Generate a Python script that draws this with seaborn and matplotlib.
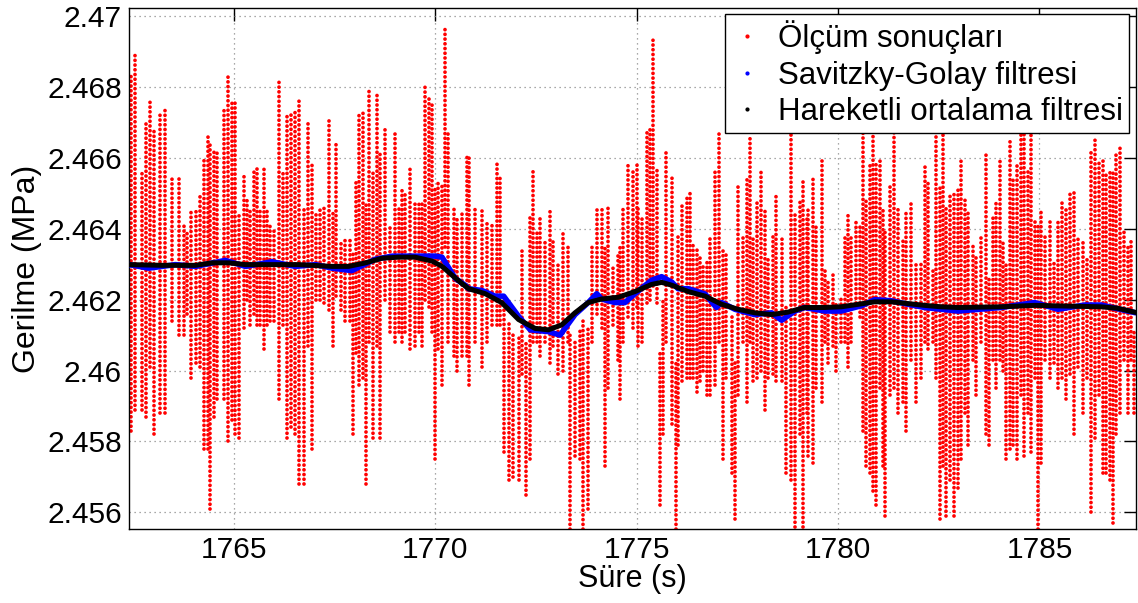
import numpy as np
import pandas as pd
import matplotlib
matplotlib.use("Agg")
import matplotlib.pyplot as plt
import seaborn as sns
from matplotlib.lines import Line2D
from matplotlib.ticker import FuncFormatter, MultipleLocator

streak_time = [
    1762.44, 1762.55, 1762.71, 1762.81, 1762.93, 1763.02, 1763.16, 1763.29, 1763.46, 1763.65,
    1763.76, 1763.84, 1763.93, 1764.05, 1764.15, 1764.26, 1764.36, 1764.42, 1764.50, 1764.59,
    1764.75, 1764.86, 1764.96, 1765.04, 1765.12, 1765.25, 1765.33, 1765.41, 1765.50, 1765.58,
    1765.66, 1765.74, 1765.83, 1765.91, 1765.99, 1766.12, 1766.22, 1766.32, 1766.41, 1766.53,
    1766.61, 1766.74, 1766.84, 1766.93, 1767.03, 1767.15, 1767.23, 1767.36, 1767.46, 1767.54,
    1767.65, 1767.77, 1767.89, 1767.95, 1768.03, 1768.12, 1768.20, 1768.27, 1768.35, 1768.45,
    1768.55, 1768.64, 1768.76, 1768.88, 1769.01, 1769.09, 1769.17, 1769.26, 1769.38, 1769.50,
    1769.60, 1769.67, 1769.74, 1769.84, 1769.92, 1770.00, 1770.08, 1770.17, 1770.25, 1770.33,
    1770.46, 1770.54, 1770.66, 1770.79,
    1770.83, 1770.99, 1771.16, 1771.28, 1771.41, 1771.53, 1771.61, 1771.70, 1771.82, 1771.94,
    1772.07, 1772.15, 1772.25, 1772.36, 1772.44, 1772.52, 1772.60, 1772.73, 1772.85, 1772.93,
    1773.06, 1773.18, 1773.29, 1773.35, 1773.47, 1773.60, 1773.68, 1773.80, 1773.89, 1774.01,
    1774.13, 1774.22, 1774.30, 1774.42, 1774.55, 1774.59, 1774.67, 1774.79, 1774.92, 1775.00,
    1775.04, 1775.14, 1775.25, 1775.33, 1775.41, 1775.50, 1775.58, 1775.66, 1775.74, 1775.87,
    1775.97, 1776.03, 1776.12, 1776.24, 1776.32, 1776.41, 1776.49, 1776.57, 1776.65, 1776.74,
    1776.82, 1776.94, 1777.05, 1777.15, 1777.23, 1777.36, 1777.44, 1777.52, 1777.65, 1777.73,
    1777.81, 1777.89, 1778.00, 1778.10, 1778.18, 1778.27, 1778.39, 1778.47, 1778.60, 1778.72,
    1778.84, 1778.93, 1779.05, 1779.13, 1779.22,
    1779.26, 1779.38, 1779.46, 1779.59, 1779.67, 1779.75, 1779.88, 1779.96, 1780.08, 1780.17,
    1780.25, 1780.33, 1780.44, 1780.54, 1780.62, 1780.70, 1780.79, 1780.87, 1780.95, 1781.03,
    1781.12, 1781.17, 1781.28, 1781.39, 1781.49, 1781.61, 1781.69, 1781.82, 1781.94, 1782.07,
    1782.15, 1782.23, 1782.36, 1782.44, 1782.52, 1782.60, 1782.69, 1782.77, 1782.89, 1782.98,
    1783.06, 1783.14, 1783.22,
    1783.35, 1783.43, 1783.56, 1783.68, 1783.76, 1783.84, 1783.93, 1784.01, 1784.09, 1784.18,
    1784.26, 1784.34, 1784.45, 1784.55, 1784.61, 1784.71, 1784.80, 1784.88, 1784.96, 1785.04,
    1785.14, 1785.25, 1785.36, 1785.46, 1785.56, 1785.66, 1785.75, 1785.85, 1785.95, 1786.08,
    1786.18, 1786.28, 1786.37, 1786.49, 1786.57, 1786.66, 1786.74, 1786.82, 1786.90, 1787.01,
    1787.11, 1787.19, 1787.27, 1787.34,
]
streak_top = [
    2.4683, 2.4689, 2.4656, 2.4670, 2.4676, 2.4668, 2.4672, 2.4674, 2.4655, 2.4654,
    2.4642, 2.4640, 2.4646, 2.4645, 2.4650, 2.4660, 2.4667, 2.4664, 2.4662, 2.4662,
    2.4674, 2.4683, 2.4676, 2.4676, 2.4644, 2.4655, 2.4648, 2.4645, 2.4656, 2.4657,
    2.4645, 2.4657, 2.4646, 2.4642, 2.4640, 2.4682, 2.4656, 2.4672, 2.4672, 2.4674,
    2.4677, 2.4646, 2.4670, 2.4659, 2.4645, 2.4646, 2.4647, 2.4671, 2.4645, 2.4664,
    2.4636, 2.4638, 2.4638, 2.4633, 2.4654, 2.4673, 2.4673, 2.4647, 2.4680, 2.4656,
    2.4678, 2.4661, 2.4669, 2.4641, 2.4668, 2.4646, 2.4651, 2.4650, 2.4658, 2.4647,
    2.4647, 2.4648, 2.4680, 2.4677, 2.4676, 2.4652, 2.4654, 2.4653, 2.4697, 2.4667,
    2.4646, 2.4643, 2.4645, 2.4661,
    2.4661, 2.4646, 2.4646, 2.4642, 2.4641, 2.4659, 2.4655, 2.4620, 2.4614, 2.4610,
    2.4610, 2.4634, 2.4608, 2.4644, 2.4657, 2.4639, 2.4643, 2.4637, 2.4645, 2.4637,
    2.4631, 2.4639, 2.4635, 2.4610, 2.4608, 2.4612, 2.4614, 2.4613, 2.4635, 2.4646,
    2.4646, 2.4635, 2.4646, 2.4629, 2.4633, 2.4635, 2.4646, 2.4658, 2.4657, 2.4658,
    2.4646, 2.4644, 2.4668, 2.4669, 2.4694, 2.4657, 2.4605, 2.4620, 2.4662, 2.4655,
    2.4603, 2.4638, 2.4647, 2.4649, 2.4651, 2.4636, 2.4635, 2.4633, 2.4630, 2.4631,
    2.4638, 2.4656, 2.4668, 2.4635, 2.4633, 2.4615, 2.4603, 2.4652, 2.4638, 2.4655,
    2.4666, 2.4637, 2.4648, 2.4657, 2.4646, 2.4632, 2.4638, 2.4650, 2.4637, 2.4619,
    2.4670, 2.4645, 2.4648, 2.4654, 2.4643,
    2.4646, 2.4655, 2.4641, 2.4659, 2.4629, 2.4626, 2.4627, 2.4619, 2.4621, 2.4638,
    2.4644, 2.4638, 2.4642, 2.4641, 2.4672, 2.4648, 2.4658, 2.4672, 2.4659, 2.4660,
    2.4646, 2.4640, 2.4653, 2.4672, 2.4646, 2.4637, 2.4645, 2.4647, 2.4631, 2.4630,
    2.4658, 2.4653, 2.4628, 2.4672, 2.4652, 2.4672, 2.4646, 2.4650, 2.4650, 2.4652,
    2.4660, 2.4648, 2.4645,
    2.4636, 2.4632, 2.4638, 2.4661, 2.4627, 2.4643, 2.4648, 2.4659, 2.4637, 2.4631,
    2.4665, 2.4654, 2.4658, 2.4672, 2.4672, 2.4656, 2.4672, 2.4643, 2.4642, 2.4646,
    2.4638, 2.4642, 2.4631, 2.4643, 2.4648, 2.4646, 2.4651, 2.4651, 2.4637, 2.4637,
    2.4632, 2.4662, 2.4666, 2.4659, 2.4659, 2.4656, 2.4657, 2.4656, 2.4661, 2.4664,
    2.4640, 2.4635, 2.4637, 2.4612,
]
streak_bottom = [
    2.4583, 2.4589, 2.4589, 2.4587, 2.4601, 2.4582, 2.4588, 2.4588, 2.4614, 2.4610,
    2.4610, 2.4616, 2.4598, 2.4602, 2.4601, 2.4578, 2.4578, 2.4561, 2.4587, 2.4592,
    2.4592, 2.4580, 2.4586, 2.4582, 2.4581, 2.4612, 2.4620, 2.4613, 2.4616, 2.4613,
    2.4613, 2.4606, 2.4613, 2.4614, 2.4614, 2.4592, 2.4613, 2.4581, 2.4584, 2.4582,
    2.4568, 2.4568, 2.4607, 2.4578, 2.4620, 2.4620, 2.4619, 2.4617, 2.4607, 2.4621,
    2.4617, 2.4614, 2.4614, 2.4582, 2.4605, 2.4596, 2.4598, 2.4568, 2.4608, 2.4581,
    2.4607, 2.4581, 2.4620, 2.4611, 2.4608, 2.4611, 2.4608, 2.4611, 2.4606, 2.4607,
    2.4611, 2.4607, 2.4620, 2.4618, 2.4611, 2.4575, 2.4606, 2.4596, 2.4635, 2.4608,
    2.4604, 2.4600, 2.4604, 2.4604,
    2.4596, 2.4608, 2.4601, 2.4608, 2.4613, 2.4613, 2.4613, 2.4577, 2.4569, 2.4570,
    2.4569, 2.4599, 2.4565, 2.4575, 2.4608, 2.4608, 2.4604, 2.4608, 2.4602, 2.4607,
    2.4599, 2.4600, 2.4608, 2.4550, 2.4576, 2.4575, 2.4550, 2.4561, 2.4608, 2.4616,
    2.4612, 2.4573, 2.4595, 2.4613, 2.4603, 2.4592, 2.4608, 2.4615, 2.4612, 2.4618,
    2.4607, 2.4608, 2.4619, 2.4620, 2.4624, 2.4619, 2.4562, 2.4582, 2.4608, 2.4585,
    2.4550, 2.4579, 2.4597, 2.4598, 2.4598, 2.4598, 2.4594, 2.4597, 2.4600, 2.4593,
    2.4593, 2.4596, 2.4608, 2.4575, 2.4598, 2.4571, 2.4558, 2.4593, 2.4608, 2.4591,
    2.4608, 2.4597, 2.4598, 2.4600, 2.4589, 2.4598, 2.4599, 2.4597, 2.4597, 2.4571,
    2.4569, 2.4556, 2.4582, 2.4556, 2.4588,
    2.4576, 2.4574, 2.4595, 2.4591, 2.4608, 2.4602, 2.4607, 2.4600, 2.4608, 2.4608,
    2.4601, 2.4608, 2.4619, 2.4615, 2.4583, 2.4573, 2.4571, 2.4566, 2.4562, 2.4595,
    2.4573, 2.4559, 2.4593, 2.4595, 2.4588, 2.4591, 2.4583, 2.4603, 2.4591, 2.4598,
    2.4608, 2.4606, 2.4608, 2.4598, 2.4558, 2.4573, 2.4559, 2.4569, 2.4559, 2.4567,
    2.4575, 2.4588, 2.4579,
    2.4603, 2.4593, 2.4608, 2.4582, 2.4579, 2.4603, 2.4595, 2.4603, 2.4600, 2.4575,
    2.4578, 2.4579, 2.4575, 2.4593, 2.4576, 2.4588, 2.4577, 2.4598, 2.4550, 2.4574,
    2.4603, 2.4598, 2.4602, 2.4595, 2.4598, 2.4592, 2.4599, 2.4582, 2.4601, 2.4588,
    2.4598, 2.4560, 2.4581, 2.4593, 2.4571, 2.4571, 2.4569, 2.4557, 2.4582, 2.4588,
    2.4603, 2.4588, 2.4603, 2.4588,
]

# ---- Savitzky-Golay filter output ----
sg_time = [1762.40, 1762.89, 1763.55, 1764.05, 1764.79, 1765.29, 1765.95, 1766.53, 1767.03, 1767.44,
           1767.93, 1768.51, 1768.93, 1769.50, 1770.00, 1770.17, 1770.50, 1770.74, 1770.83, 1771.16,
           1771.49, 1771.70, 1772.07, 1772.36, 1772.81, 1773.10, 1773.47, 1773.80, 1774.01, 1774.13,
           1774.46, 1774.71, 1774.96, 1775.37, 1775.62, 1775.87, 1776.03, 1776.28, 1776.70, 1776.98,
           1777.11, 1777.44, 1777.93, 1778.35, 1778.60, 1778.93, 1779.17, 1779.67, 1780.08, 1780.58,
           1780.91, 1781.32, 1781.74, 1782.15, 1782.56, 1782.98, 1784.05, 1784.88, 1785.46, 1786.12,
           1786.53, 1787.39]
sg_value = [2.46299, 2.46289, 2.46299, 2.46294, 2.46311, 2.46294, 2.46307, 2.46294, 2.46299, 2.46289,
            2.46282, 2.46314, 2.46323, 2.46323, 2.46323, 2.46320, 2.46260, 2.46241, 2.46231, 2.46226,
            2.46210, 2.46210, 2.46153, 2.46115, 2.46110, 2.46100, 2.46158, 2.46192, 2.46217, 2.46202,
            2.46192, 2.46192, 2.46217, 2.46255, 2.46265, 2.46250, 2.46231, 2.46231, 2.46216, 2.46178,
            2.46192, 2.46173, 2.46158, 2.46163, 2.46142, 2.46168, 2.46178, 2.46168, 2.46168, 2.46183,
            2.46200, 2.46197, 2.46187, 2.46178, 2.46173, 2.46168, 2.46178, 2.46192, 2.46173, 2.46185,
            2.46185, 2.46163]

# ---- moving average filter output ----
ma_time = [1762.40, 1763.22, 1764.05, 1764.46, 1764.88, 1765.29, 1766.12, 1766.61, 1767.44, 1767.85,
           1768.27, 1768.68, 1769.09, 1769.50, 1769.92, 1770.17, 1770.41, 1770.66, 1770.83, 1771.24,
           1771.65, 1772.07, 1772.48, 1772.81, 1773.14, 1773.47, 1773.80, 1774.13, 1774.55, 1774.96,
           1775.37, 1775.62, 1775.87, 1776.28, 1776.70, 1777.11, 1777.52, 1777.93, 1778.35, 1778.76,
           1779.17, 1779.67, 1780.08, 1780.50, 1780.91, 1781.32, 1781.74, 1782.15, 1782.56, 1782.98,
           1784.05, 1784.88, 1785.70, 1786.53, 1786.94, 1787.39]
ma_value = [2.46299, 2.46297, 2.46297, 2.46304, 2.46304, 2.46299, 2.46299, 2.46299, 2.46294, 2.46294,
            2.46304, 2.46317, 2.46320, 2.46320, 2.46309, 2.46294, 2.46270, 2.46246, 2.46231, 2.46217,
            2.46192, 2.46144, 2.46119, 2.46115, 2.46129, 2.46163, 2.46192, 2.46202, 2.46207, 2.46223,
            2.46243, 2.46249, 2.46241, 2.46223, 2.46210, 2.46187, 2.46173, 2.46163, 2.46158, 2.46165,
            2.46178, 2.46178, 2.46180, 2.46187, 2.46194, 2.46194, 2.46189, 2.46184, 2.46180, 2.46178,
            2.46180, 2.46184, 2.46182, 2.46180, 2.46176, 2.46164]

legend_labels = ["Ölçüm sonuçları", "Savitzky-Golay filtresi", "Hareketli ortalama filtresi"]
x_ticks = [1765, 1770, 1775, 1780, 1785]

# ---- style ----
sns.set_theme(style="white")
plt.rcParams["font.family"] = ["Liberation Sans", "DejaVu Sans"]
plt.rcParams["text.color"] = "black"
plt.rcParams["axes.labelcolor"] = "black"
plt.rcParams["xtick.color"] = "black"
plt.rcParams["ytick.color"] = "black"

fig = plt.figure(figsize=(11.38, 6.03), dpi=100)
ax = fig.add_axes([0.1134, 0.1227, 0.8846, 0.8640])

# measured samples: dotted vertical streaks
ax.vlines(streak_time, streak_bottom, streak_top, colors="#ff0000", linewidth=2.7,
          linestyles=[(0, (0.01, 1.25))], capstyle="round", zorder=2)

sg_df = pd.DataFrame({"t": sg_time, "v": sg_value})
ma_df = pd.DataFrame({"t": ma_time, "v": ma_value})
sns.lineplot(data=sg_df, x="t", y="v", color="#0000ff", linewidth=4.0, ax=ax,
             estimator=None, sort=False, zorder=3)
sns.lineplot(data=ma_df, x="t", y="v", color="#000000", linewidth=3.6, ax=ax,
             estimator=None, sort=False, zorder=4)

ax.set_xlim(1762.40, 1787.39)
ax.set_ylim(2.45553, 2.47023)
ax.set_xticks(x_ticks)
ax.yaxis.set_major_locator(MultipleLocator(0.002))
ax.yaxis.set_major_formatter(FuncFormatter(lambda v, p: "%g" % round(v, 4)))
ax.xaxis.set_major_formatter(FuncFormatter(lambda v, p: "%d" % round(v)))

ax.grid(True, linestyle=(0, (1, 3)), color="#8c8c8c", linewidth=0.9)
ax.set_axisbelow(True)
ax.tick_params(direction="in", length=9, width=1, top=True, right=True,
               labelsize=21.5, colors="black", labelcolor="black", pad=5)
for s in ax.spines.values():
    s.set_color("black")
    s.set_linewidth(1.0)

ax.set_xlabel("Süre (s)", fontsize=22, labelpad=0, color="black")
ax.set_ylabel("Gerilme (MPa)", fontsize=23, labelpad=4, color="black")

handles = [Line2D([], [], marker=".", linestyle="none", color=c, markersize=4)
           for c in ["#ff0000", "#0000ff", "#000000"]]
leg = ax.legend(handles, legend_labels, loc="upper right", fontsize=22.5, frameon=True,
                fancybox=False, framealpha=1, edgecolor="black", borderaxespad=0.2,
                handlelength=1.0, handletextpad=0.5, labelspacing=0.2, borderpad=0.2,
                labelcolor="black")
leg.get_frame().set_linewidth(1.0)
leg.set_zorder(10)

fig.savefig("out.png", dpi=100)
